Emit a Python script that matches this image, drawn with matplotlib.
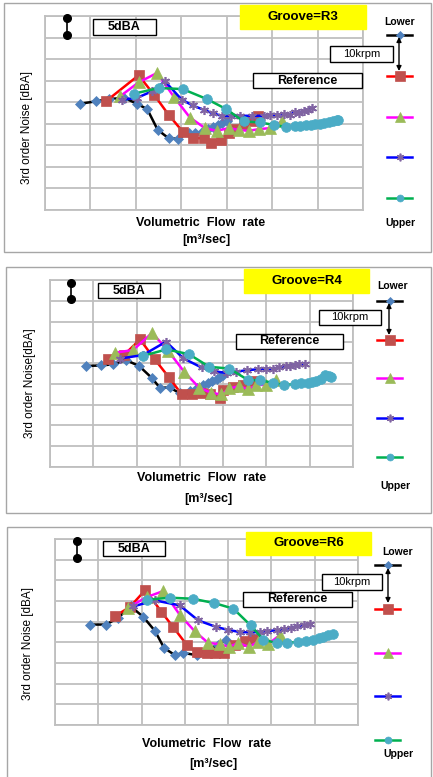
import matplotlib
matplotlib.use('Agg')
import matplotlib.pyplot as plt
from matplotlib.patches import Rectangle

W, H = 433, 777
plt.rcParams['font.family'] = ['Liberation Sans', 'DejaVu Sans']

# flow rate / noise in grid units (7 x 9 grid, no tick values given)
r3_x1 = [0.77, 1.12, 1.41, 1.75, 2.02, 2.25, 2.48, 2.72, 2.92, 3.16, 3.30, 3.45, 3.58, 3.70, 3.80, 3.90, 4.00]
r3_y1 = [4.93, 5.04, 5.15, 5.20, 4.93, 4.68, 3.72, 3.33, 3.30, 3.57, 3.55, 3.62, 3.75, 3.87, 3.95, 4.05, 4.15]
r3_x2 = [1.34, 2.06, 2.41, 2.72, 3.03, 3.25, 3.49, 3.66, 3.88, 4.05, 4.20, 4.37, 4.55, 4.68]
r3_y2 = [5.04, 6.25, 5.32, 4.42, 3.64, 3.33, 3.33, 3.13, 3.26, 3.55, 3.75, 3.95, 4.15, 4.35]
r3_x3 = [1.65, 2.06, 2.47, 2.84, 3.19, 3.52, 3.78, 4.04, 4.26, 4.48, 4.70, 4.96, 5.21]
r3_y3 = [5.27, 5.92, 6.36, 5.24, 4.29, 3.80, 3.67, 3.80, 3.72, 3.67, 3.75, 3.80, 4.11]
r3_x4 = [1.69, 2.02, 2.35, 2.64, 3.01, 3.25, 3.49, 3.70, 3.89, 4.10, 4.30, 4.55, 4.81, 4.95, 5.10, 5.25, 5.40, 5.50, 5.60, 5.70, 5.80, 5.87]
r3_y4 = [5.12, 5.20, 5.50, 5.97, 5.12, 4.85, 4.65, 4.48, 4.37, 4.37, 4.37, 4.37, 4.37, 4.40, 4.42, 4.45, 4.42, 4.55, 4.48, 4.60, 4.65, 4.73]
r3_x5 = [1.97, 2.50, 3.03, 3.56, 3.99, 4.37, 4.74, 5.03, 5.31, 5.50, 5.62, 5.75, 5.85, 5.95, 6.05, 6.15, 6.25, 6.35, 6.42, 6.46]
r3_y5 = [5.40, 5.66, 5.61, 5.15, 4.68, 4.11, 4.06, 3.95, 3.85, 3.88, 3.91, 3.93, 3.95, 3.98, 4.00, 4.03, 4.08, 4.12, 4.16, 4.19]

r4_x1 = [0.83, 1.18, 1.46, 1.75, 2.06, 2.35, 2.54, 2.77, 3.00, 3.23, 3.40, 3.54, 3.65, 3.75, 3.85, 3.92, 4.00]
r4_y1 = [4.86, 4.89, 4.94, 5.15, 4.86, 4.29, 3.81, 3.83, 3.54, 3.65, 3.78, 3.94, 4.05, 4.15, 4.25, 4.33, 4.42]
r4_x2 = [1.35, 1.71, 2.08, 2.42, 2.75, 3.04, 3.27, 3.50, 3.70, 3.92, 4.00, 4.23, 4.45, 4.69]
r4_y2 = [5.18, 5.39, 6.14, 5.18, 4.31, 3.50, 3.50, 3.57, 3.50, 3.34, 3.70, 3.86, 3.95, 4.15]
r4_x3 = [1.50, 1.92, 2.36, 2.73, 3.10, 3.45, 3.73, 3.96, 4.14, 4.37, 4.58, 4.77, 5.00, 5.23]
r4_y3 = [5.50, 5.63, 6.46, 5.59, 4.58, 3.81, 3.57, 3.49, 3.78, 3.89, 3.73, 3.94, 3.96, 4.18]
r4_x4 = [1.62, 2.15, 2.68, 3.08, 3.50, 3.80, 4.08, 4.30, 4.54, 4.80, 5.00, 5.15, 5.30, 5.45, 5.55, 5.65, 5.75, 5.88]
r4_y4 = [5.22, 5.39, 6.03, 5.23, 4.79, 4.60, 4.53, 4.58, 4.66, 4.70, 4.74, 4.72, 4.80, 4.85, 4.88, 4.92, 4.95, 4.98]
r4_x5 = [2.15, 2.69, 3.21, 3.68, 4.14, 4.58, 4.85, 5.15, 5.40, 5.65, 5.80, 5.95, 6.05, 6.15, 6.25, 6.35, 6.45, 6.50]
r4_y5 = [5.35, 5.66, 5.43, 4.82, 4.74, 4.18, 4.18, 4.05, 3.94, 3.99, 4.02, 4.05, 4.08, 4.15, 4.25, 4.42, 4.38, 4.34]

r6_x1 = [0.82, 1.18, 1.46, 1.75, 2.04, 2.31, 2.52, 2.77, 2.96, 3.27, 3.54, 3.77, 3.96]
r6_y1 = [4.86, 4.86, 5.19, 5.74, 5.23, 4.55, 3.73, 3.38, 3.49, 3.38, 3.70, 3.86, 4.13]
r6_x2 = [1.38, 1.73, 2.09, 2.46, 2.73, 3.05, 3.27, 3.50, 3.69, 3.90, 4.15, 4.38, 4.58]
r6_y2 = [5.26, 5.71, 6.54, 5.47, 4.74, 3.86, 3.54, 3.49, 3.46, 3.46, 3.86, 4.07, 4.18]
r6_x3 = [1.69, 2.12, 2.50, 2.88, 3.23, 3.54, 3.81, 4.02, 4.23, 4.48, 4.69, 4.92, 5.19]
r6_y3 = [5.68, 6.19, 6.48, 5.34, 4.53, 3.97, 3.91, 3.78, 3.97, 3.78, 4.02, 3.91, 4.34]
r6_x4 = [1.81, 2.31, 2.88, 3.31, 3.73, 4.00, 4.27, 4.50, 4.73, 4.90, 5.12, 5.30, 5.45, 5.60, 5.75, 5.88]
r6_y4 = [5.74, 6.03, 5.79, 5.06, 4.74, 4.60, 4.50, 4.48, 4.50, 4.55, 4.58, 4.65, 4.70, 4.78, 4.83, 4.87]
r6_x5 = [2.12, 2.65, 3.18, 3.68, 4.12, 4.52, 4.81, 5.12, 5.35, 5.62, 5.80, 5.95, 6.10, 6.20, 6.30, 6.42]
r6_y5 = [6.06, 6.16, 6.11, 5.90, 5.63, 4.82, 4.13, 3.97, 3.97, 4.02, 4.06, 4.12, 4.20, 4.28, 4.35, 4.39]

grooves = ['R3', 'R4', 'R6']
ylabels = ['3rd order Noise [dBA]', '3rd order Noise[dBA]', '3rd order Noise [dBA]']
series = [
    [(r3_x1, r3_y1), (r3_x2, r3_y2), (r3_x3, r3_y3), (r3_x4, r3_y4), (r3_x5, r3_y5)],
    [(r4_x1, r4_y1), (r4_x2, r4_y2), (r4_x3, r4_y3), (r4_x4, r4_y4), (r4_x5, r4_y5)],
    [(r6_x1, r6_y1), (r6_x2, r6_y2), (r6_x3, r6_y3), (r6_x4, r6_y4), (r6_x5, r6_y5)],
]

line_colors = ['black', '#FF0000', '#FF00FF', '#0000FF', '#00B050']
markers = ['D', 's', '^', (6, 2, 0), 'o']
marker_colors = ['#4F81BD', '#C0504D', '#9BBB59', '#8064A2', '#4BACC6']
marker_sizes = [5.5, 7.5, 8, 6.5, 7]
legend_sizes = [4, 6.5, 7, 5.5, 5]

# pixel layout of each panel
layout = [
    dict(frame=(4, 3, 431, 252), ax=(45, 16, 363, 210), dot_x=67, dot_y=(18, 35),
         dba=(93, 19, 156, 35), groove=(240, 5, 366, 29), ref=(253, 73, 362, 88),
         lower=(400, 22), leg_x=(387, 412), leg_y=[35, 76, 117, 157, 198], upper=(400, 223),
         arrow=(399, 37, 71), krpm=(330, 46, 393, 62), xlab=(201, 223), unit=(206, 240), ylab=(27, 127)),
    dict(frame=(6, 267, 431, 513), ax=(50, 280, 353, 467), dot_x=71, dot_y=(283, 299),
         dba=(98, 283, 160, 298), groove=(244, 269, 369, 293), ref=(236, 334, 343, 349),
         lower=(393, 286), leg_x=(377, 402), leg_y=[301, 340, 378, 418, 457], upper=(395, 486),
         arrow=(389, 303, 335), krpm=(319, 310, 381, 325), xlab=(202, 478), unit=(208, 499), ylab=(30, 383)),
    dict(frame=(7, 527, 431, 790), ax=(55, 539, 358, 725), dot_x=77, dot_y=(541, 558),
         dba=(103, 541, 165, 556), groove=(246, 532, 371, 555), ref=(243, 592, 352, 607),
         lower=(398, 552), leg_x=(375, 400), leg_y=[565, 609, 653, 696, 740], upper=(398, 754),
         arrow=(388, 568, 603), krpm=(322, 574, 382, 590), xlab=(207, 744), unit=(213, 764), ylab=(28, 644)),
]

fig = plt.figure(figsize=(W / 100, H / 100), dpi=100)
fig.patch.set_facecolor('white')

ov = fig.add_axes([0, 0, 1, 1], zorder=5)
ov.set_xlim(0, W)
ov.set_ylim(H, 0)
ov.axis('off')
ov.patch.set_alpha(0)


def box(rect, text, face='white', size=9, weight='bold', lw=1.0):
    x0, y0, x1, y1 = rect
    ov.add_patch(Rectangle((x0, y0), x1 - x0, y1 - y0, facecolor=face,
                           edgecolor='black' if face == 'white' else face, lw=lw))
    if text:
        ov.text((x0 + x1) / 2, (y0 + y1) / 2, text, ha='center', va='center',
                fontsize=size, fontweight=weight)


for k, lay in enumerate(layout):
    fx0, fy0, fx1, fy1 = lay['frame']
    ov.add_patch(Rectangle((fx0, fy0), fx1 - fx0, fy1 - fy0, facecolor='none',
                           edgecolor='#A6A6A6', lw=1.0))

    x0, y0, x1, y1 = lay['ax']
    ax = fig.add_axes([x0 / W, 1 - y1 / H, (x1 - x0) / W, (y1 - y0) / H], zorder=2)
    ax.set_xlim(0, 7)
    ax.set_ylim(0, 9)
    ax.set_xticks(range(8))
    ax.set_yticks(range(10))
    ax.tick_params(length=0, labelbottom=False, labelleft=False)
    ax.grid(True, color='#BFBFBF', lw=1.3)
    ax.set_axisbelow(True)
    for sp in ax.spines.values():
        sp.set_color('#BFBFBF')
        sp.set_linewidth(1.3)

    for i, (sx, sy) in enumerate(series[k]):
        ax.plot(sx, sy, color=line_colors[i], lw=1.8, marker=markers[i],
                ms=marker_sizes[i], mfc=marker_colors[i], mec=marker_colors[i],
                mew=1.2 if i == 3 else 0.5, zorder=3 + i, clip_on=False)

    # 5 dBA scale bar
    ov.plot([lay['dot_x']] * 2, lay['dot_y'], color='black', lw=1.2, marker='o', ms=5.5)
    box(lay['dba'], '5dBA')
    box(lay['groove'], 'Groove=' + grooves[k], face='#FFFF00', size=9.5)
    box(lay['ref'], 'Reference')

    # speed legend, lower to upper
    ov.text(*lay['lower'], 'Lower', ha='center', va='center', fontsize=7.5, fontweight='bold')
    ov.text(*lay['upper'], 'Upper', ha='center', va='center', fontsize=7.5, fontweight='bold')
    lx0, lx1 = lay['leg_x']
    for i, ly in enumerate(lay['leg_y']):
        ov.plot([lx0, lx1], [ly, ly], color=line_colors[i], lw=1.8)
        ov.plot([(lx0 + lx1) / 2], [ly], marker=markers[i], ms=legend_sizes[i],
                mfc=marker_colors[i], mec=marker_colors[i], mew=1.2 if i == 3 else 0.5)
    axx, ay0, ay1 = lay['arrow']
    ov.annotate('', xy=(axx, ay0), xytext=(axx, ay1),
                arrowprops=dict(arrowstyle='<|-|>', color='black', lw=1.0,
                                mutation_scale=7, shrinkA=0, shrinkB=0))
    box(lay['krpm'], '10krpm', size=8, weight='normal')

    ov.text(*lay['xlab'], 'Volumetric  Flow  rate', ha='center', va='center',
            fontsize=9, fontweight='bold')
    ov.text(*lay['unit'], '[m³/sec]', ha='center', va='center',
            fontsize=9, fontweight='bold')
    ov.text(*lay['ylab'], ylabels[k], ha='center', va='center', rotation=90, fontsize=8.5)

fig.savefig('out.png', dpi=100)
